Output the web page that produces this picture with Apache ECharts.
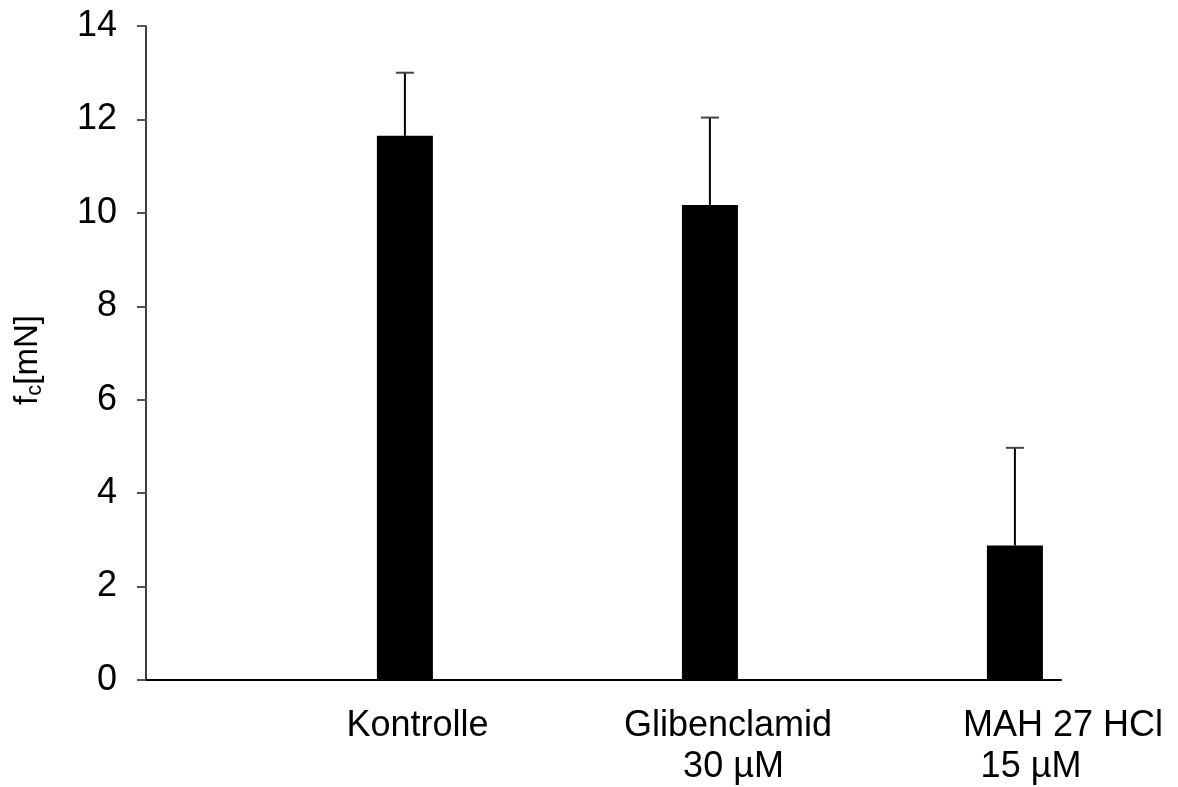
<!DOCTYPE html>
<html>
<head>
<meta charset="utf-8">
<script src="https://cdn.jsdelivr.net/npm/echarts@6/dist/echarts.min.js"></script>
<style>
  html, body { margin: 0; padding: 0; background: #fff; }
  #chart { width: 1178px; height: 787px; }
</style>
</head>
<body>
<div id="chart"></div>
<script>
// Contraction force per treatment group: mean and standard deviation
const categories = ['Kontrolle', 'Glibenclamid\n30 µM', 'MAH 27 HCl\n15 µM'];
const meanForce = [11.65, 10.17, 2.88];
const sdForce = [1.35, 1.87, 2.09];
const yTicks = { min: 0, max: 14, interval: 2 };

// Bar geometry: an empty leading series pushes the data bars right inside each band
const BAR_W = 56;
const BAR_GAP = 2.8;
const BAR_OFFSET = BAR_W * (1 + BAR_GAP) / 2;

const FONT = '"Liberation Sans", Arial, sans-serif';

// Per-line left padding so that each category label sits where it is drawn
const labelStyles = {
  k1: { padding: [0, 0, 0, 238] },
  g1: { padding: [0, 0, 0, 249] },
  g2: { padding: [0, 0, 0, 260] },
  m1: { padding: [0, 0, 0, 309] },
  m2: { padding: [0, 0, 0, 245] }
};
const labelKeys = [['k1'], ['g1', 'g2'], ['m1', 'm2']];

const richBase = {};
Object.keys(labelStyles).forEach(function (k) {
  richBase[k] = Object.assign({ fontSize: 36, lineHeight: 41, color: '#000', fontFamily: FONT }, labelStyles[k]);
});

const errData = meanForce.map(function (m, i) { return [i, m, sdForce[i]]; });

const chart = echarts.init(document.getElementById('chart'));
chart.setOption({
  animation: false,
  backgroundColor: '#fff',
  grid: { left: 146, right: 117, top: 26, bottom: 107, containLabel: false, outerBoundsMode: 'none' },
  xAxis: {
    type: 'category',
    data: categories,
    axisLine: { show: true, lineStyle: { color: '#000', width: 2 } },
    axisTick: { show: false },
    splitLine: { show: false },
    axisLabel: {
      interval: 0,
      margin: 26,
      fontSize: 36,
      fontFamily: FONT,
      color: '#000',
      lineHeight: 41,
      formatter: function (value, idx) {
        const lines = value.split('\n');
        return lines.map(function (line, j) { return '{' + labelKeys[idx][j] + '|' + line + '}'; }).join('\n');
      },
      rich: richBase
    }
  },
  yAxis: {
    type: 'value',
    min: yTicks.min,
    max: yTicks.max,
    interval: yTicks.interval,
    name: '{a|f}{s|c}{b|[mN]}',
    nameLocation: 'middle',
    nameRotate: 90,
    nameGap: 100,
    nameTextStyle: {
      rich: {
        a: { fontSize: 33, lineHeight: 36, fontFamily: FONT, color: '#000' },
        b: { fontSize: 33, lineHeight: 36, fontFamily: FONT, color: '#000', padding: [0, 14, 0, 0] },
        s: { fontSize: 22, lineHeight: 8, verticalAlign: 'bottom', fontFamily: FONT, color: '#000' }
      }
    },
    axisLine: { show: true, lineStyle: { color: '#000', width: 1.5 } },
    axisTick: { show: true, length: 9, lineStyle: { color: '#555', width: 2 } },
    splitLine: { show: false },
    axisLabel: { margin: 29, fontSize: 36, fontFamily: FONT, color: '#000' }
  },
  series: [
    {
      name: 'spacer',
      type: 'bar',
      barWidth: BAR_W,
      barGap: (BAR_GAP * 100) + '%',
      data: [],
      silent: true
    },
    {
      name: 'fc',
      type: 'bar',
      barWidth: BAR_W,
      barGap: (BAR_GAP * 100) + '%',
      data: meanForce,
      itemStyle: { color: '#000' },
      z: 3
    },
    {
      name: 'SD',
      type: 'custom',
      data: errData,
      encode: { x: 0, y: 1 },
      z: 2,
      renderItem: function (params, api) {
        const idx = api.value(0);
        const mean = api.value(1);
        const sd = api.value(2);
        const base = api.coord([idx, mean]);
        const top = api.coord([idx, mean + sd]);
        const x = base[0] + BAR_OFFSET;
        const cap = 9;
        return {
          type: 'group',
          children: [
            { type: 'line', shape: { x1: x, y1: base[1], x2: x, y2: top[1] }, style: { stroke: '#000', lineWidth: 2 } },
            { type: 'line', shape: { x1: x - cap, y1: top[1], x2: x + cap, y2: top[1] }, style: { stroke: '#444', lineWidth: 2 } }
          ]
        };
      }
    }
  ]
});
</script>
</body>
</html>
